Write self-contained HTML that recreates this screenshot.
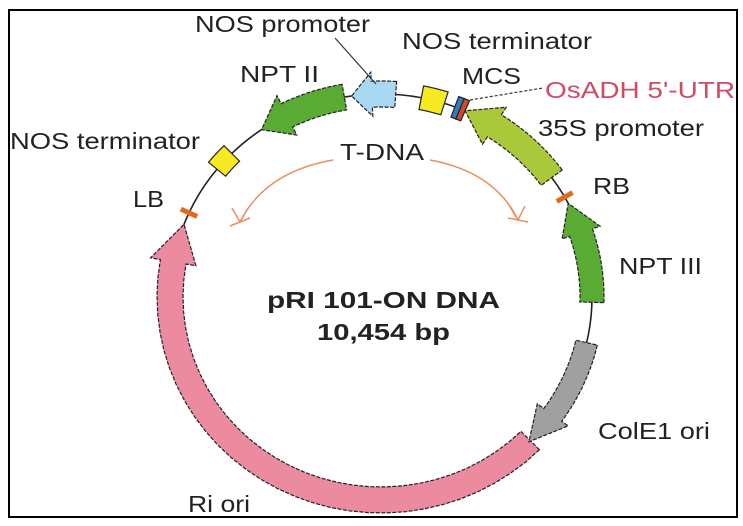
<!DOCTYPE html>
<html><head><meta charset="utf-8"><style>
html,body{margin:0;padding:0;background:#fff;}
svg{display:block;}
text{font-family:"Liberation Sans",Arial,sans-serif;fill:#222;}
</style></head><body>
<svg id="s" width="743" height="526" viewBox="0 0 743 526" xmlns="http://www.w3.org/2000/svg">
<rect x="9" y="10" width="728" height="507" fill="#fff" stroke="#000" stroke-width="2"/>
<g id="g"></g>
<g font-size="23">
<text x="195" y="32" textLength="175" lengthAdjust="spacingAndGlyphs">NOS promoter</text>
<text x="402" y="49" textLength="190" lengthAdjust="spacingAndGlyphs">NOS terminator</text>
<text x="462" y="84" textLength="59" lengthAdjust="spacingAndGlyphs">MCS</text>
<text x="545" y="98" textLength="190" lengthAdjust="spacingAndGlyphs" style="fill:#d04a62">OsADH 5'-UTR</text>
<text x="240" y="82" textLength="79" lengthAdjust="spacingAndGlyphs">NPT II</text>
<text x="538" y="136" textLength="166" lengthAdjust="spacingAndGlyphs">35S promoter</text>
<text x="10" y="149" textLength="190" lengthAdjust="spacingAndGlyphs">NOS terminator</text>
<text x="340" y="160" textLength="84" lengthAdjust="spacingAndGlyphs">T-DNA</text>
<text x="593" y="194" textLength="37" lengthAdjust="spacingAndGlyphs">RB</text>
<text x="133" y="207" textLength="31" lengthAdjust="spacingAndGlyphs">LB</text>
<text x="619" y="274" textLength="83" lengthAdjust="spacingAndGlyphs">NPT III</text>
<text x="598" y="439" textLength="112" lengthAdjust="spacingAndGlyphs">ColE1 ori</text>
<text x="188" y="512" textLength="62" lengthAdjust="spacingAndGlyphs">Ri ori</text>
<text x="267" y="308" font-weight="bold" textLength="233" lengthAdjust="spacingAndGlyphs">pRI 101-ON DNA</text>
<text x="317" y="340" font-weight="bold" textLength="133" lengthAdjust="spacingAndGlyphs">10,454 bp</text>
</g>
</svg>
<script>
var cx=381,cy=297,rx=211,ry=203;
var g=document.getElementById('g');var NS='http://www.w3.org/2000/svg';
function P(t,o){var a=t*Math.PI/180;return [(cx+(rx+o)*Math.cos(a)).toFixed(1),(cy+(ry+o)*Math.sin(a)).toFixed(1)];}
function add(tag,at){var e=document.createElementNS(NS,tag);for(var k in at)e.setAttribute(k,at[k]);g.appendChild(e);return e;}
function arcPts(t1,t2,o){var n=30,r=[];for(var i=0;i<=n;i++){r.push(P(t1+(t2-t1)*i/n,o).join(','));}return r;}
function arrow(t1,t2,w,hw,hl,fill){
 var d=t2>t1?1:-1;var tb=t2-d*hl;
 var pts=[].concat(arcPts(t1,tb,w/2));
 pts.push(P(tb,hw/2).join(','));pts.push(P(t2,0).join(','));pts.push(P(tb,-hw/2).join(','));
 pts=pts.concat(arcPts(tb,t1,-w/2));
 add('polygon',{points:pts.join(' '),fill:fill,stroke:'#222','stroke-width':1.2,'stroke-dasharray':'4 1.5','stroke-linejoin':'miter'});
}
function box(t1,t2,h,fill){
 var pts=arcPts(t1,t2,h/2).concat(arcPts(t2,t1,-h/2));
 add('polygon',{points:pts.join(' '),fill:fill,stroke:'#222','stroke-width':1.2});
}
function mark(t){var a=P(t,-9),b=P(t,9);add('line',{x1:a[0],y1:a[1],x2:b[0],y2:b[1],stroke:'#e06a1e','stroke-width':5});}
add('ellipse',{cx:cx,cy:cy,rx:rx,ry:ry,fill:'none',stroke:'#222','stroke-width':1.6});
arrow(45,201,26,46,11,'#ec8aa0');
arrow(13,45.5,22,38,10,'#a0a0a0');
arrow(1.5,-27.5,24,40,9,'#5aab34');
arrow(-36,-66.5,26,44,9,'#a9c93a');
arrow(-100,-124.5,26,44,8,'#5aab34');
arrow(-86,-98,26,44,5.5,'#a9d8f2');
box(-69.5,-68,22,'#2f7fc0');box(-68,-66.5,22,'#d9452b');
box(-79,-72.5,24,'#f8ea22');
box(-141,-135,22,'#f8ea22');
mark(204.5);mark(-29.5);
add('line',{x1:335,y1:38,x2:376,y2:84,stroke:'#333','stroke-width':1.2});
add('line',{x1:470,y1:100,x2:543,y2:88,stroke:'#333','stroke-width':1.2,'stroke-dasharray':'3 2'});
var oc='#e8915e';
add('path',{d:'M333,160 Q265,172 240,222',fill:'none',stroke:oc,'stroke-width':1.5});
add('path',{d:'M232,208 L240,222 L248,208',fill:'none',stroke:oc,'stroke-width':1.5});
add('line',{x1:230,y1:226,x2:250,y2:218,stroke:oc,'stroke-width':1.5});
add('path',{d:'M430,160 Q495,172 518,220',fill:'none',stroke:oc,'stroke-width':1.5});
add('path',{d:'M510,207 L518,220 L525,206',fill:'none',stroke:oc,'stroke-width':1.5});
add('line',{x1:508,y1:218,x2:528,y2:222,stroke:oc,'stroke-width':1.5});
</script>
</body></html>
